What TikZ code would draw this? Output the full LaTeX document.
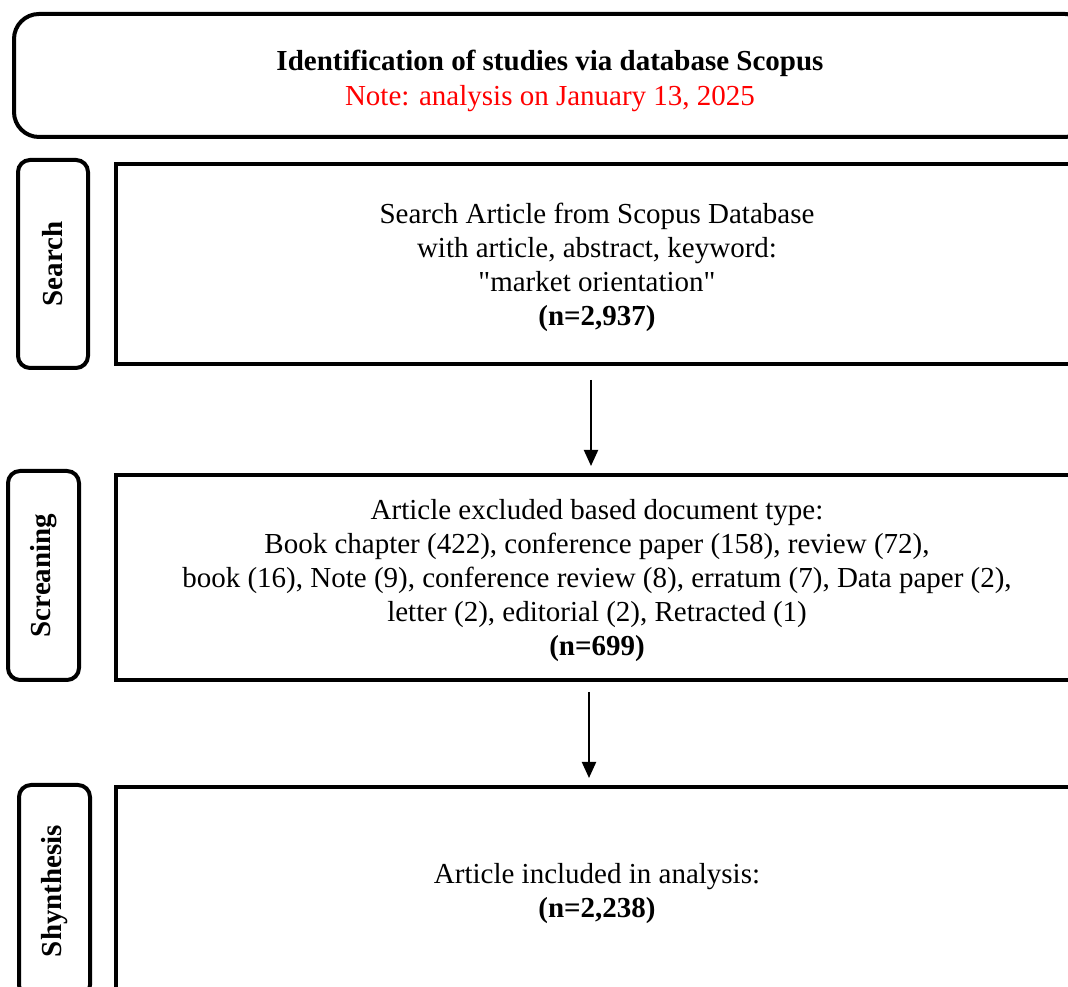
\documentclass[tikz,border=0pt]{standalone}
\usepackage{fontspec}
\setmainfont{Liberation Serif}
\newfontfamily\qfont[Ligatures=TeXOff]{Liberation Serif}
\newcommand{\sq}{{\qfont\symbol{34}}}
\usetikzlibrary{arrows.meta}
\begin{document}
\begin{tikzpicture}[x=1pt,y=1pt,
  every node/.style={font=\fontsize{29}{34}\selectfont},
  bigbox/.style={draw=black, line width=4pt, rectangle, inner sep=0pt},
  headbox/.style={draw=black, line width=4pt, rectangle, rounded corners=25pt, inner sep=0pt},
  lblbox/.style={draw=black, line width=4pt, rectangle, rounded corners=12pt, inner sep=0pt},
  bodytext/.style={align=center, inner sep=0pt},
  lbltext/.style={rotate=90, font=\fontsize{29}{34}\selectfont\bfseries},
  arr/.style={line width=2pt, -{Triangle[length=16pt,width=14pt]}}
]
\useasboundingbox (0,0) rectangle (1068,987);
\fill[white] (0,0) rectangle (1068,987);

% header
\node[headbox, minimum width=1076pt, minimum height=123pt] (head) at (552,911.5) {};
\node[bodytext] (headtxt) at ([xshift=-2pt,yshift=-5pt]head.center)
  {\textbf{Identification of studies via database Scopus}\\[1pt]\textcolor{red}{Note: analysis on January 13, 2025}};

% stage labels
\node[lblbox, minimum width=70pt, minimum height=208pt] (lsearch) at (53,723) {};
\node[lbltext] (tsearch) at (lsearch.center) {Search};
\node[lblbox, minimum width=71pt, minimum height=209pt] (lscr) at (43.5,411.5) {};
\node[lbltext] (tscr) at (lscr.center) {Screaning};
\node[lblbox, minimum width=71pt, minimum height=212pt] (lsyn) at (54.5,96) {};
\node[lbltext] (tsyn) at (lsyn.center) {Shynthesis};

% main boxes
\node[bigbox, minimum width=962pt, minimum height=200pt] (search) at (597,723) {};
\node[bodytext] (searchtxt) at ([yshift=-3pt]search.center)
  {Search Article from Scopus Database\\with article, abstract, keyword:\\\sq market orientation\sq\\\textbf{(n=2,937)}};
\node[bigbox, minimum width=962pt, minimum height=205pt] (scr) at (597,409.5) {};
\node[bodytext] (scrtxt) at ([yshift=-3pt]scr.center)
  {Article excluded based document type:\\Book chapter (422), conference paper (158), review (72),\\book (16), Note (9), conference review (8), erratum (7), Data paper (2),\\letter (2), editorial (2), Retracted (1)\\\textbf{(n=699)}};
\node[bigbox, minimum width=962pt, minimum height=208pt] (syn) at (597,96) {};
\node[bodytext] (syntxt) at ([yshift=-3pt]syn.center)
  {Article included in analysis:\\\textbf{(n=2,238)}};

% arrows
\draw[arr] ([xshift=-6pt,yshift=-14pt]search.south) -- ([xshift=-6pt,yshift=7pt]scr.north);
\draw[arr] ([xshift=-8pt,yshift=-10pt]scr.south) -- ([xshift=-8pt,yshift=7pt]syn.north);
\end{tikzpicture}
\end{document}
